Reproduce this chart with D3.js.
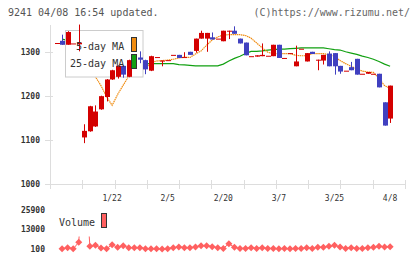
<!DOCTYPE html>
<html><head><meta charset="utf-8">
<script src="https://cdn.jsdelivr.net/npm/d3@7"></script>
<style>body{margin:0;background:#fff}svg{display:block}text{font-family:"DejaVu Sans Mono",monospace}</style>
</head><body>
<script>
const title = "9241 04/08 16:54 updated.";
const credit = "(C)https://www.rizumu.net/";
const tickLabels = ["1/22","2/5","2/20","3/7","3/25","4/8"];
const tickIdx = [10,20,30,40,50,60];
const priceTicks = [1000,1100,1200,1300];
const volTicks = [100,13000,25900];
const open  = [1321,1326,1317,1320,1318,1106,1120,1131,1170,1198,1238,1244,1269,1244,1289,1288,1282,1258,1289,1281,1282,1294,1294,1289,1301,1303,1331,1331,1334,1331,1325,1349,1349,1331,1322,1291,1290,1291,1292,1291,1317,1287,1298,1268,1308,1279,1301,1283,1281,1297,1298,1269,1258,1266,1285,1251,1251,1251,1251,1186,1149];
const high  = [1321,1340,1348,1320,1363,1136,1178,1179,1201,1239,1260,1270,1270,1283,1290,1302,1283,1292,1289,1281,1282,1294,1294,1300,1301,1331,1349,1344,1345,1331,1349,1349,1359,1331,1322,1291,1293,1320,1292,1317,1317,1287,1298,1315,1308,1298,1301,1283,1294,1302,1298,1269,1258,1278,1285,1251,1255,1251,1251,1186,1224];
const low   = [1321,1317,1317,1320,1302,1093,1119,1130,1169,1188,1237,1240,1242,1243,1280,1275,1250,1257,1289,1268,1282,1294,1287,1289,1294,1299,1331,1301,1329,1331,1325,1330,1342,1320,1293,1291,1290,1291,1292,1291,1287,1287,1298,1268,1308,1279,1296,1259,1272,1268,1249,1251,1258,1259,1249,1251,1251,1251,1220,1133,1139];
const close = [1321,1317,1346,1320,1322,1121,1177,1165,1200,1238,1259,1269,1249,1282,1281,1283,1261,1291,1289,1281,1282,1294,1287,1289,1294,1331,1344,1344,1329,1331,1349,1349,1342,1320,1293,1291,1293,1294,1292,1317,1287,1287,1298,1279,1308,1298,1296,1283,1294,1268,1268,1256,1258,1259,1249,1251,1255,1251,1220,1133,1224];
const ma5 = [null,1318,1320,1320,1318,1285,1262,1244,1224,1199,1179,1204,1225,1246,1258,1262,1263,1277,1280,1281,1282,1284,1287,1289,1288,1296,1303,1316,1328,1335,1339,1340,1340,1340,1338,1332,1321,1310,1300,1297,1297,1297,1297,1293,1292,1292,1297,1297,1297,1294,1291,1281,1274,1268,1262,1257,1255,1254,1240,1224,1218];
const ma25 = [null,1330,1327,1323,1320,1316,1312,1308,1304,1300,1296,1292,1288,1284,1280,1277,1274,1274,1274,1274,1274,1274,1272,1271,1270,1269,1269,1269,1269,1269,1273,1280,1286,1291,1297,1302,1302,1303,1305,1306,1307,1307,1308,1309,1310,1310,1310,1310,1310,1308,1306,1305,1301,1298,1295,1291,1288,1284,1279,1273,1268];
const volume = [null,200,950,200,4500,60000,1860,2500,750,300,2900,1200,2250,950,950,950,300,200,200,150,200,950,1400,950,950,1400,2250,2250,1600,950,500,3550,1200,500,500,950,500,950,500,500,250,500,250,350,500,950,500,1200,1200,1860,2500,1400,500,950,500,500,950,1200,1860,1400,1600];

const W=420,H=259;
const svg=d3.select("body").append("svg").attr("width",W).attr("height",H);
const idx=d3.range(open.length);
const x=d3.scaleLinear().domain([0,60]).range([56.5,390.1]);
const y=d3.scaleLinear().domain([1000,1362]).range([184,25]);
const yv=d3.scaleLinear().domain([100,25900]).range([249,209.5]);
const left=50,right=405;
const grid="#dddddd";

svg.append("defs").append("clipPath").attr("id","vclip").append("rect").attr("x",left).attr("y",205).attr("width",right-left).attr("height",54);

svg.append("text").attr("x",8).attr("y",16).attr("font-size",10).attr("fill","#555").text(title);
svg.append("text").attr("x",410).attr("y",16).attr("text-anchor","end").attr("font-size",10).attr("fill","#666").text(credit);

// axes
svg.append("line").attr("x1",left+0.5).attr("x2",left+0.5).attr("y1",25).attr("y2",184).attr("stroke",grid);
svg.append("line").attr("x1",left).attr("x2",right).attr("y1",184.5).attr("y2",184.5).attr("stroke",grid);
const xdiv=d3.scaleLinear().domain([0,11]).range([left,right]);
svg.selectAll(".xt").data(d3.range(12)).join("line").attr("x1",d=>Math.round(xdiv(d))+0.5).attr("x2",d=>Math.round(xdiv(d))+0.5)
  .attr("y1",180).attr("y2",189).attr("stroke",grid);
svg.selectAll(".yt").data(priceTicks).join("line").attr("x1",45).attr("x2",53).attr("y1",d=>Math.round(y(d))+0.5).attr("y2",d=>Math.round(y(d))+0.5).attr("stroke",grid);
svg.selectAll(".yl").data(priceTicks).join("text").attr("x",40).attr("y",d=>y(d)+3).attr("text-anchor","end")
  .attr("font-size",8).attr("font-weight","bold").attr("fill","#333").text(d=>d);
svg.selectAll(".xl").data(tickIdx).join("text").attr("x",d=>x(d)).attr("y",201).attr("text-anchor","middle")
  .attr("font-size",8).attr("fill","#333").text((d,i)=>tickLabels[i]);
svg.selectAll(".vl").data(volTicks).join("text").attr("x",45).attr("y",d=>yv(d)+3).attr("text-anchor","end")
  .attr("font-size",8).attr("font-weight","bold").attr("fill","#333").text(d=>d);

// MA lines
const line=(arr)=>d3.line().defined(i=>arr[i]!=null).x(i=>x(i)).y(i=>y(arr[i]))(idx);
svg.append("path").attr("d",line(ma25)).attr("fill","none").attr("stroke","#11a011").attr("stroke-width",1.2);
svg.append("path").attr("d",line(ma5)).attr("fill","none").attr("stroke","#f08c10").attr("stroke-width",1.2).attr("stroke-dasharray","1.5,0.6");

// legend box (covers lines)
svg.append("rect").attr("x",65.5).attr("y",30.5).attr("width",77.5).attr("height",46.5).attr("fill","#fff").attr("stroke","#cccccc");

// candles
const up="#d40000",dn="#4040c0";
const g=svg.append("g");
idx.forEach(i=>{
  const col=close[i]>=open[i]?up:dn;
  const cx=x(i);
  g.append("line").attr("x1",Math.round(cx)+0.5).attr("x2",Math.round(cx)+0.5).attr("y1",y(high[i])).attr("y2",y(low[i])).attr("stroke",col);
  const top=y(Math.max(open[i],close[i])),bot=y(Math.min(open[i],close[i]));
  g.append("rect").attr("x",Math.round(cx)-2).attr("y",top).attr("width",5).attr("height",Math.max(1,bot-top)).attr("fill",col);
});

// legend text & swatches
svg.append("text").attr("x",76).attr("y",50).attr("font-size",10).attr("fill","#333").text("5-day MA");
svg.append("text").attr("x",70).attr("y",66.5).attr("font-size",10).attr("fill","#333").text("25-day MA");
svg.append("rect").attr("x",131.5).attr("y",37.5).attr("width",5).attr("height",14).attr("fill","#f08c10").attr("stroke","#333");
svg.append("rect").attr("x",131.5).attr("y",54.5).attr("width",5).attr("height",14).attr("fill","#11a011").attr("stroke","#333");

// volume
const vcol="#ff6060";
const vg=svg.append("g").attr("clip-path","url(#vclip)");
vg.append("path").attr("d",d3.line().defined(i=>volume[i]!=null).x(i=>x(i)).y(i=>yv(volume[i]))(idx)).attr("fill","none").attr("stroke",vcol);
vg.selectAll(".dm").data(idx.filter(i=>volume[i]!=null)).join("path")
  .attr("d",i=>{const cx=x(i),cy=yv(volume[i]);return `M${cx},${cy-3.5}L${cx+3.5},${cy}L${cx},${cy+3.5}L${cx-3.5},${cy}Z`;}).attr("fill",vcol);
svg.append("rect").attr("x",54).attr("y",204).attr("width",58).attr("height",32.5).attr("fill","#fff");
svg.append("text").attr("x",59).attr("y",226).attr("font-size",10).attr("fill","#333").text("Volume");
svg.append("rect").attr("x",101.5).attr("y",213.5).attr("width",5).attr("height",14).attr("fill",vcol).attr("stroke","#333");
</script>
</body></html>
